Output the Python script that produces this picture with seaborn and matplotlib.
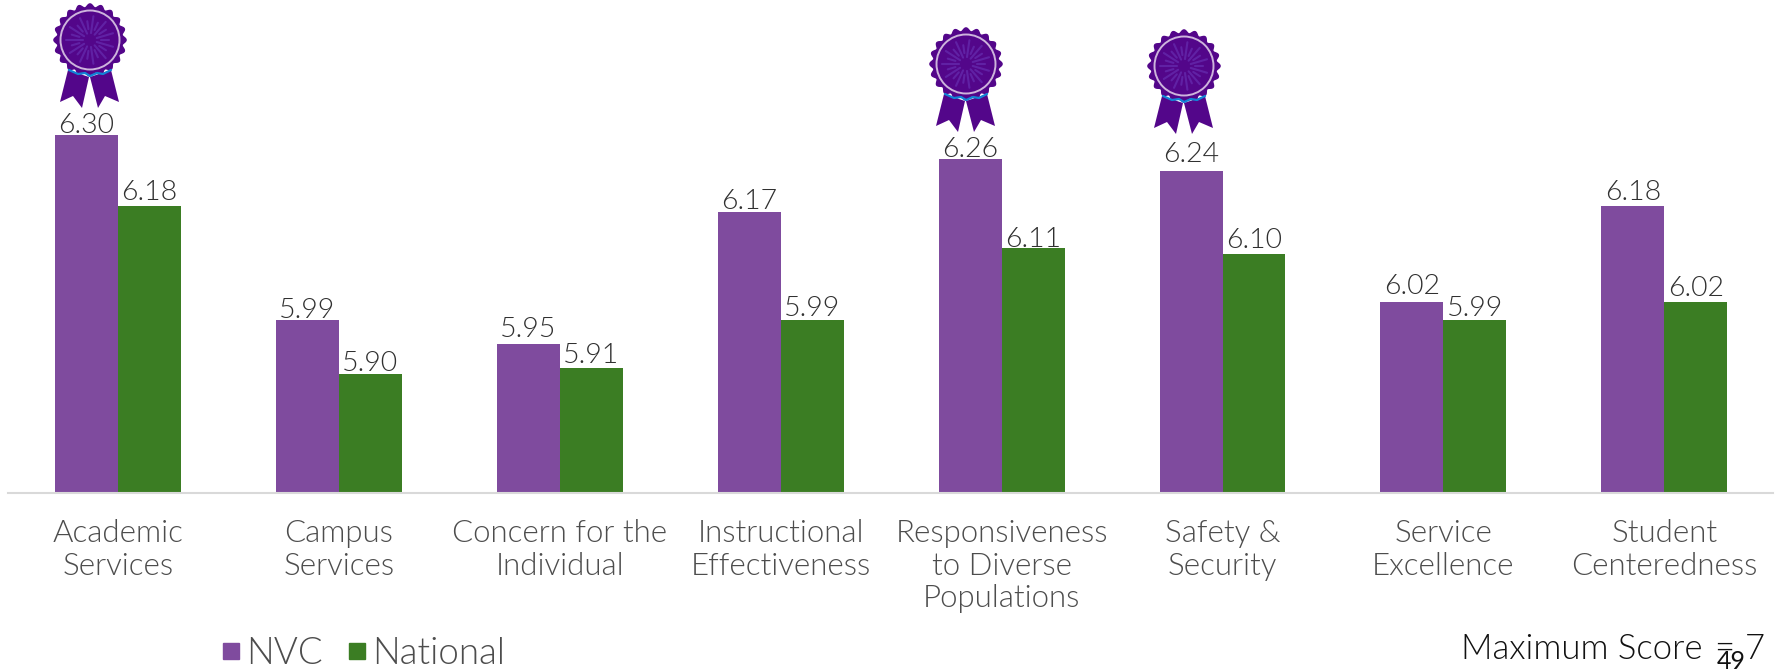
import numpy as np
import pandas as pd
import matplotlib
matplotlib.use('Agg')
import matplotlib.pyplot as plt
from matplotlib.patches import Polygon, Circle
from matplotlib.lines import Line2D
import seaborn as sns

categories = ['Academic\nServices', 'Campus\nServices', 'Concern for the\nIndividual',
              'Instructional\nEffectiveness', 'Responsiveness\nto Diverse\nPopulations',
              'Safety &\nSecurity', 'Service\nExcellence', 'Student\nCenteredness']
nvc = [6.30, 5.99, 5.95, 6.17, 6.26, 6.24, 6.02, 6.18]
national = [6.18, 5.90, 5.91, 5.99, 6.11, 6.10, 5.99, 6.02]
series_names = ['NVC', 'National']

# labels in the original were hand placed, padding per bar in points
nvc_pad = [-2.5, -2, 1, -1.5, -2.5, 2.5, 2, 1]
national_pad = [1, -1.5, 0, -0.5, -2.5, 1, -0.5, 1]

PURPLE = '#7F4B9E'
GREEN = '#3B7D23'
FONT = ['Lato', 'DejaVu Sans']

sns.set_theme(style='white')
plt.rcParams['font.family'] = FONT
plt.rcParams['font.weight'] = 300

df = pd.DataFrame({'cat': categories * 2,
                   'score': nvc + national,
                   'series': [series_names[0]] * 8 + [series_names[1]] * 8})

fig = plt.figure(figsize=(17.82, 6.72), dpi=100)
ax = fig.add_axes([8 / 1782, 179 / 672, 1765 / 1782, 493 / 672])
sns.barplot(data=df, x='cat', y='score', hue='series', order=categories, hue_order=series_names,
            palette=[PURPLE, GREEN], width=0.57, gap=0, saturation=1, legend=False, linewidth=0, ax=ax)
ax.set_xlim(-0.498, 7.492)
ax.set_ylim(5.7, 5.7 + 493 / 597)
ax.set_xlabel('')
ax.set_ylabel('')
ax.set_yticks([])
sns.despine(ax=ax, left=True, top=True, right=True)
ax.spines['bottom'].set_color('#D9D9D9')
ax.spines['bottom'].set_linewidth(1.5)
ax.tick_params(axis='x', length=0, pad=19)
ax.set_xticks(range(len(categories)))
ax.set_xticklabels(categories, fontsize=22.5, color='#4d4d4d', linespacing=1.15)

for cont, pads in zip(ax.containers, [nvc_pad, national_pad]):
    for bar, pad in zip(cont, pads):
        ax.annotate('%.2f' % bar.get_height(), (bar.get_x() + bar.get_width() / 2, bar.get_height()),
                    xytext=(0, pad), textcoords='offset points', ha='center', va='bottom',
                    fontsize=20.5, color='#303030')

# overlay in pixel coords for the ribbons
ov = fig.add_axes([0, 0, 1, 1])
ov.set_xlim(0, 1782)
ov.set_ylim(672, 0)
ov.axis('off')
ov.patch.set_alpha(0)

tail_l = [(-22, 30), (-30, 62), (-17, 56), (-8, 68), (-1, 37)]
tail_r = [(0, 37), (8, 68), (15, 56), (29, 62), (21, 30)]
wave = [(-21, 30), (-12, 34), (-5, 33), (0, 36), (7, 33), (13, 34), (21, 30)]


def draw_award(cx, cy):
    ink = '#53068A'
    for tail in (tail_l, tail_r):
        ov.add_patch(Polygon([(cx + a, cy + b) for a, b in tail], closed=True, fc=ink, ec='none', zorder=3))
    t = np.linspace(0, 2 * np.pi, 361)
    r = 34.3 + 1.8 * np.cos(20 * t)
    ov.fill(cx + r * np.cos(t), cy + r * np.sin(t), color=ink, zorder=4)
    for i, a in enumerate(np.linspace(0, 2 * np.pi, 22, endpoint=False)):
        r0, r1 = (7, 24) if i % 2 else (11, 19)
        ov.plot([cx + r0 * np.cos(a), cx + r1 * np.cos(a)], [cy + r0 * np.sin(a), cy + r1 * np.sin(a)],
                color='#7A55D6', lw=1.5, alpha=0.35, zorder=5, solid_capstyle='round')
    ov.add_patch(Circle((cx, cy), 29.5, fc='none', ec='#CDB4DC', lw=1.4, zorder=6))
    ov.plot([cx + a for a, b in wave], [cy + b for a, b in wave], color='#1283D6', lw=1.6, zorder=7)


draw_award(90, 40)
draw_award(966, 64)
draw_award(1184, 66)

# legend row
handles = [Line2D([], [], ls='', marker='s', ms=11.5, color=c) for c in (PURPLE, GREEN)]
fig.legend(handles, series_names, loc='center left', bbox_to_anchor=(220 / 1782, 1 - 654 / 672), ncol=2,
           frameon=False, fontsize=26.5, labelcolor='#4d4d4d', handlelength=0.6, handletextpad=0.1,
           columnspacing=0.65, borderpad=0, borderaxespad=0)

fig.text(1461 / 1782, 1 - 659 / 672, 'Maximum Score', fontsize=25, color='#111111', va='baseline')
fig.text(1724 / 1782, 1 - 659 / 672, '=', fontsize=25, color='#111111', ha='center', va='baseline')
fig.text(1731 / 1782, 1 - 669 / 672, '49', fontsize=18, color='#111111', ha='center', va='baseline',
         zorder=5, fontweight='normal')
fig.text(1755 / 1782, 1 - 659 / 672, '7', fontsize=25, color='#111111', ha='center', va='baseline')

fig.savefig('out.png', dpi=100)
